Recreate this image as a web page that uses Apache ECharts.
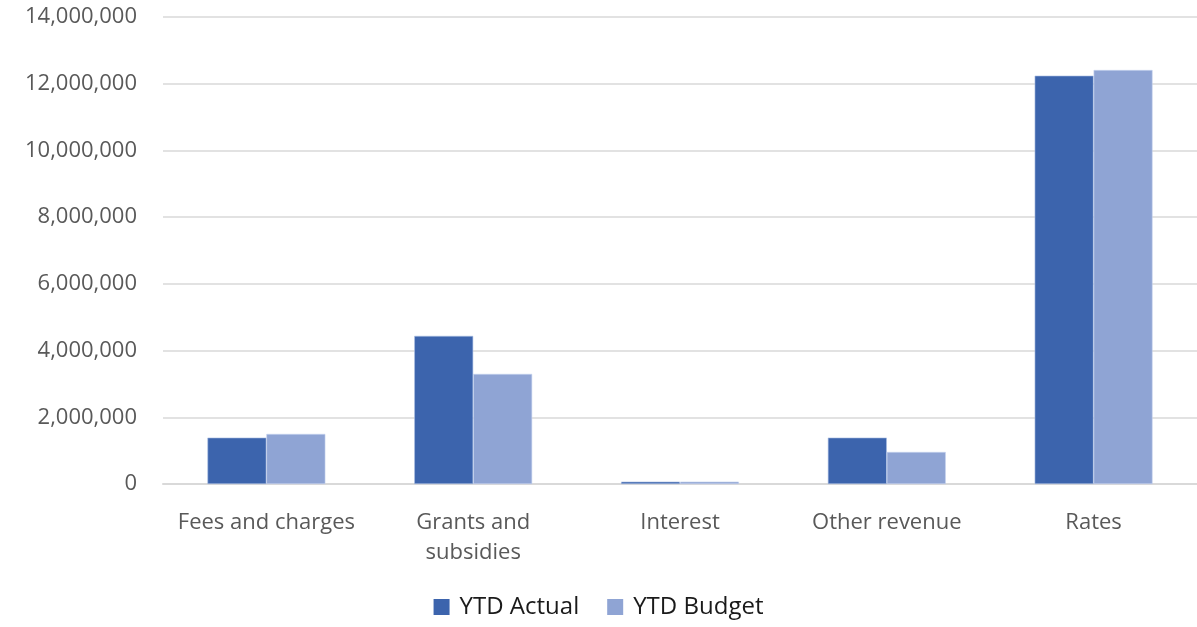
<!DOCTYPE html>
<html><head><meta charset="utf-8">
<script src="https://cdn.jsdelivr.net/npm/echarts@6/dist/echarts.min.js"></script>
<style>html,body{margin:0;padding:0;background:#fff}#c{width:1197px;height:627px}</style>
</head><body><div id="c"></div>
<script>
const categories = ["Fees and charges", "Grants and\nsubsidies", "Interest", "Other revenue", "Rates"];
const ytdActual = [1390000, 4440000, 70000, 1390000, 12240000];
const ytdBudget = [1500000, 3300000, 70000, 960000, 12410000];
const seriesNames = ["YTD Actual", "YTD Budget"];
const font = "'Open Sans', 'Liberation Sans', sans-serif";
const chart = echarts.init(document.getElementById('c'));
chart.setOption({
  animation: false,
  grid: {left: 163, right: 0, top: 17, bottom: 143},
  legend: {
    bottom: 3, left: 'center', itemWidth: 16, itemHeight: 16, itemGap: 28,
    icon: 'rect',
    itemStyle: {borderWidth: 0},
    textStyle: {color: '#1a1a1a', fontSize: 24, fontFamily: font, padding: [0, 0, 0, 5]}
  },
  xAxis: {
    type: 'category', data: categories,
    axisLine: {lineStyle: {color: '#d9d9d9', width: 2}},
    axisTick: {show: false},
    axisLabel: {color: '#595959', fontSize: 22, fontFamily: font, margin: 24, lineHeight: 30, interval: 0}
  },
  yAxis: {
    type: 'value', min: 0, max: 14000000, interval: 2000000,
    axisLine: {show: false}, axisTick: {show: false},
    splitLine: {lineStyle: {color: '#d9d9d9', width: 1.5}},
    axisLabel: {color: '#595959', fontSize: 22, fontFamily: font, margin: 26,
      formatter: v => v.toLocaleString('en-US')}
  },
  series: [
    {name: seriesNames[0], type: 'bar', data: ytdActual, barWidth: '28.5%', barGap: '0%',
     itemStyle: {color: '#3c64ad', borderColor: '#a9bde3', borderWidth: 0.6}},
    {name: seriesNames[1], type: 'bar', data: ytdBudget, barWidth: '28.5%',
     itemStyle: {color: '#8fa4d4', borderColor: '#c5d2ee', borderWidth: 0.6}}
  ]
});
</script></body></html>
